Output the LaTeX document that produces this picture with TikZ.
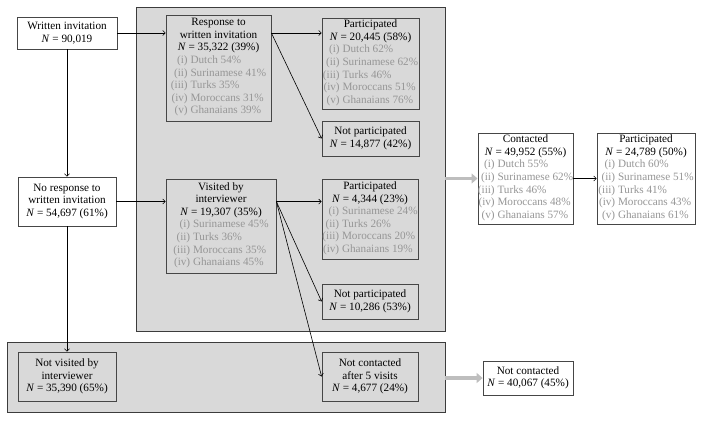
\documentclass[tikz,border=0pt]{standalone}
\usepackage{fontspec}
\setmainfont{Liberation Serif}
\usetikzlibrary{arrows.meta,calc}
\definecolor{panel}{RGB}{217,217,217}
\definecolor{panelline}{RGB}{60,60,60}
\definecolor{boxline}{RGB}{70,70,70}
\definecolor{listgray}{RGB}{150,150,150}
\definecolor{fatarrow}{RGB}{190,190,190}
\newcommand{\bodyfont}{\fontsize{11.2}{12.6}\selectfont}
\newcommand{\grouplist}[1]{{\color{listgray}\begin{tabular}[t]{@{}r@{\ }l@{}}#1\end{tabular}}}
\tikzset{
  panelbox/.style={draw=panelline, fill=panel, line width=0.8pt, inner sep=0pt},
  box/.style={draw=boxline, line width=0.8pt, align=center, inner xsep=0pt, inner ysep=1pt, font=\bodyfont, text=black},
  whitebox/.style={box, fill=white},
  flow/.style={-{Straight Barb[length=2.5pt,width=5pt]}, line width=0.6pt, black},
  fat/.style={-{Triangle[length=6pt,width=10pt]}, line width=3.5pt, fatarrow}
}
\begin{document}
\begin{tikzpicture}[x=1pt,y=-1pt]
\useasboundingbox (0,0) rectangle (703,420);
\node[panelbox, minimum width=309pt, minimum height=324pt] (pA) at (290.5,169) {};
\node[panelbox, minimum width=438pt, minimum height=70pt] (pB) at (226,377) {};

\node[whitebox, minimum width=100pt, minimum height=32pt] (wi) at (67,33)
  {Written invitation\\\textit{N} = 90,019};
\node[box, minimum width=105pt, minimum height=106pt] (resp) at (218.5,68)
  {Response to\\written invitation\\\textit{N} = 35,322 (39\%)\\\grouplist{(i)&Dutch 54\%\\(ii)&Surinamese 41\%\\(iii)&Turks 35\%\\(iv)&Moroccans 31\%\\(v)&Ghanaians 39\%}};
\node[box, minimum width=97pt, minimum height=91pt] (p1) at (370.5,63.5)
  {Participated\\\textit{N} = 20,445 (58\%)\\\grouplist{(i)&Dutch 62\%\\(ii)&Surinamese 62\%\\(iii)&Turks 46\%\\(iv)&Moroccans 51\%\\(v)&Ghanaians 76\%}};
\node[box, minimum width=97pt, minimum height=35pt] (np1) at (370.5,138.5)
  {Not participated\\\textit{N} = 14,877 (42\%)};
\node[whitebox, minimum width=98pt, minimum height=49pt] (nr) at (67,201.5)
  {No response to\\written invitation\\\textit{N} = 54,697 (61\%)};
\node[box, minimum width=110pt, minimum height=94pt] (visited) at (221,226)
  {Visited by\\interviewer\\\textit{N} = 19,307 (35\%)\\\grouplist{(i)&Surinamese 45\%\\(ii)&Turks 36\%\\(iii)&Moroccans 35\%\\(iv)&Ghanaians 45\%}};
\node[box, minimum width=96pt, minimum height=80pt] (p2) at (370,219)
  {Participated\\\textit{N} = 4,344 (23\%)\\\grouplist{(i)&Surinamese 24\%\\(ii)&Turks 26\%\\(iii)&Moroccans 20\%\\(iv)&Ghanaians 19\%}};
\node[box, minimum width=96pt, minimum height=35pt] (np2) at (370,301.5)
  {Not participated\\\textit{N} = 10,286 (53\%)};
\node[box, minimum width=98pt, minimum height=49pt] (nv) at (67,376.5)
  {Not visited by\\interviewer\\\textit{N} = 35,390 (65\%)};
\node[box, minimum width=96pt, minimum height=49pt] (nc5) at (370,376.5)
  {Not contacted\\after 5 visits\\\textit{N} = 4,677 (24\%)};
\node[whitebox, minimum width=95pt, minimum height=91pt] (con) at (525.5,178.5)
  {Contacted\\\textit{N} = 49,952 (55\%)\\\grouplist{(i)&Dutch 55\%\\(ii)&Surinamese 62\%\\(iii)&Turks 46\%\\(iv)&Moroccans 48\%\\(v)&Ghanaians 57\%}};
\node[whitebox, minimum width=98pt, minimum height=91pt] (p3) at (646,178.5)
  {Participated\\\textit{N} = 24,789 (50\%)\\\grouplist{(i)&Dutch 60\%\\(ii)&Surinamese 51\%\\(iii)&Turks 41\%\\(iv)&Moroccans 43\%\\(v)&Ghanaians 61\%}};
\node[whitebox, minimum width=90pt, minimum height=34pt] (ncf) at (528,378)
  {Not contacted\\\textit{N} = 40,067 (45\%)};

\coordinate (rs) at (resp.east |- wi.east);
\coordinate (vs) at ($(visited.north east)+(0,23)$);

\draw[flow] (wi.east) -- (wi.east -| resp.west);
\draw[flow] (wi.south) -- (nr.north);
\draw[flow] (nr.east) -- (nr.east -| visited.west);
\draw[flow] (nr.south) -- (nv.north);
\draw[flow] (rs) -- (rs -| p1.west);
\draw[flow] (rs) -- (np1.west);
\draw[flow] (vs) -- (vs -| p2.west);
\draw[flow] (vs) -- (np2.west);
\draw[flow] (vs) -- (nc5.west);
\draw[flow] (con.east) -- (p3.west);
\draw[fat] (pA.east |- con.west) -- (con.west);
\draw[fat] (pB.east |- ncf.west) -- (ncf.west);
\end{tikzpicture}
\end{document}
